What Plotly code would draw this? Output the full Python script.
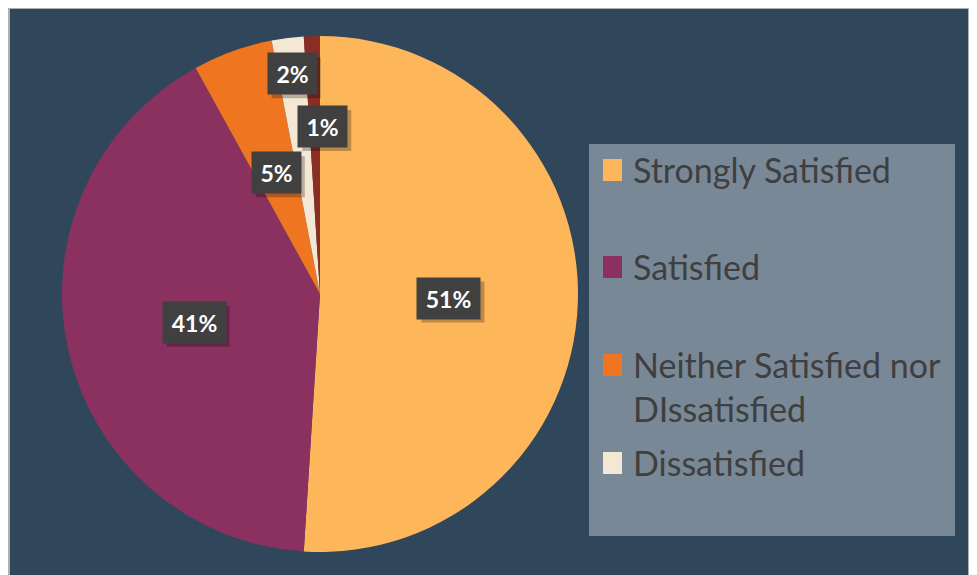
import math
import plotly.graph_objects as go

# survey responses (share of respondents, %)
labels = ["Strongly Satisfied", "Satisfied", "Neither Satisfied nor DIssatisfied",
          "Dissatisfied", "Strongly Dissatisfied"]
values = [51, 41, 5, 2, 1]
colors = ["#FDB75A", "#8B3160", "#F07521", "#F4E7D3", "#8A2D22"]
legend_shown = 4  # the last entry is cut off in the original legend

# the page body adds an 8px margin, so the figure sits at (8, 8)
OFF = 8
W, H = 977 - OFF, 575 - OFF
BG = "#2F465B"


def px(x):
    return (x - OFF) / W


def py(y):
    return 1 - (y - OFF) / H


# pie placement (page pixels)
cx, cy, R = 320, 294, 258

fig = go.Figure()

fig.add_trace(
    go.Pie(
        labels=labels,
        values=values,
        marker=dict(colors=colors, line=dict(width=0)),
        sort=False,
        direction="clockwise",
        rotation=0,
        textinfo="none",
        hoverinfo="label+percent",
        showlegend=False,
        domain=dict(x=[px(cx - R), px(cx + R)], y=[py(cy + R), py(cy - R)]),
    )
)

shapes = [
    # chart area
    dict(type="rect", xref="paper", yref="paper",
         x0=px(9), x1=px(969), y0=py(580), y1=py(8),
         fillcolor=BG, line=dict(color="#A9B0B6", width=2), layer="below"),
    # legend box
    dict(type="rect", xref="paper", yref="paper",
         x0=px(589), x1=px(955), y0=py(536), y1=py(144),
         fillcolor="#798896", line=dict(width=0), layer="below"),
]

annotations = []

# data labels, placed along each slice's middle angle
label_r = [0.5, 0.5, 0.5, 0.86, 0.65]
label_dx = [0, 0, 0, 0, 8]
total = sum(values)
acc = 0
for v, rf, dx in zip(values, label_r, label_dx):
    mid = (acc + v / 2) / total * 2 * math.pi
    acc += v
    lx = cx + rf * R * math.sin(mid) + dx
    ly = cy - rf * R * math.cos(mid)
    txt = f"{round(v / total * 100)}%"
    bw = 14 * len(txt) + 5 + 16
    bh = 41
    # drop shadow
    shapes.append(dict(
        type="rect", xref="paper", yref="paper",
        x0=px(lx - bw / 2 + 4), x1=px(lx + bw / 2 + 4),
        y0=py(ly + bh / 2 + 4), y1=py(ly - bh / 2 + 4),
        fillcolor="rgba(0,0,0,0.25)", line=dict(width=0),
    ))
    annotations.append(dict(
        x=px(lx), y=py(ly), xref="paper", yref="paper",
        xanchor="center", yanchor="middle",
        text=f"<b>{txt}</b>", showarrow=False, bgcolor="#404040",
        width=bw - 16, height=bh - 16, borderpad=8,
        font=dict(family="Lato", size=23, color="white"),
    ))

# legend
leg_y = [170, 267, 365, 463]
fs = 34
for i in range(legend_shown):
    y = leg_y[i]
    shapes.append(dict(type="rect", xref="paper", yref="paper",
                       x0=px(603), x1=px(622), y0=py(y + 11), y1=py(y - 11),
                       fillcolor=colors[i], line=dict(width=0)))
    name = labels[i].replace(" nor ", " nor<br>")
    annotations.append(dict(
        x=px(631), y=py(y - 23), xref="paper", yref="paper",
        xanchor="left", yanchor="top", align="left",
        text=name, showarrow=False,
        font=dict(family="Lato", size=fs, color="#3F3F3F"),
    ))

fig.update_layout(
    width=W, height=H,
    margin=dict(l=0, r=0, t=0, b=0),
    paper_bgcolor=BG,
    plot_bgcolor=BG,
    shapes=shapes,
    annotations=annotations,
)

fig.write_html("out.html")
